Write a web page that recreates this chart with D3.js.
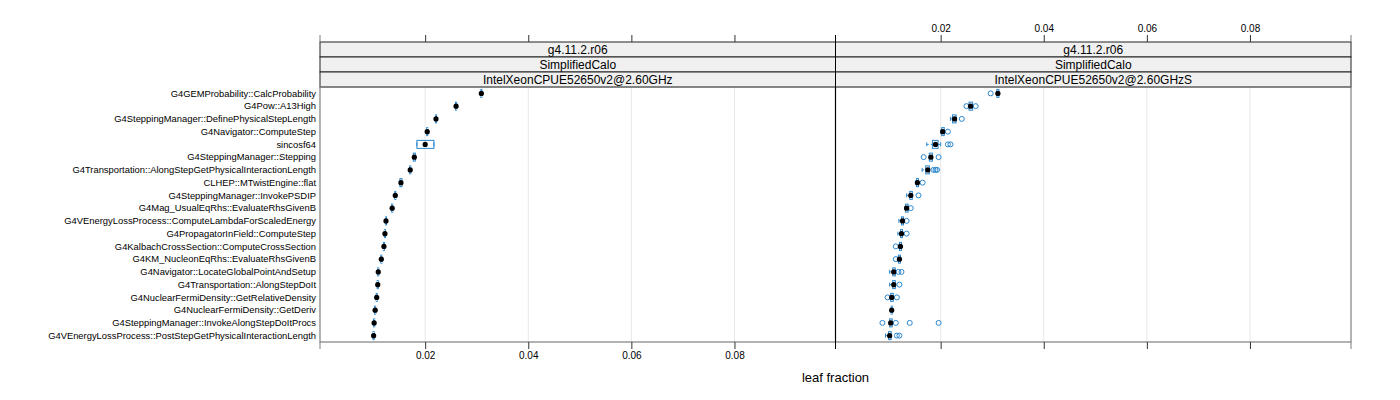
<!DOCTYPE html>
<html>
<head>
<meta charset="utf-8">
<script src="https://cdn.jsdelivr.net/npm/d3@7"></script>
<style>
  html, body { margin: 0; padding: 0; background: #fff; }
  svg { display: block; font-family: "Liberation Sans", Arial, sans-serif; }
</style>
</head>
<body>
<svg id="chart" width="1400" height="400"></svg>
<script>
const categories = [
  "G4GEMProbability::CalcProbability",
  "G4Pow::A13High",
  "G4SteppingManager::DefinePhysicalStepLength",
  "G4Navigator::ComputeStep",
  "sincosf64",
  "G4SteppingManager::Stepping",
  "G4Transportation::AlongStepGetPhysicalInteractionLength",
  "CLHEP::MTwistEngine::flat",
  "G4SteppingManager::InvokePSDIP",
  "G4Mag_UsualEqRhs::EvaluateRhsGivenB",
  "G4VEnergyLossProcess::ComputeLambdaForScaledEnergy",
  "G4PropagatorInField::ComputeStep",
  "G4KalbachCrossSection::ComputeCrossSection",
  "G4KM_NucleonEqRhs::EvaluateRhsGivenB",
  "G4Navigator::LocateGlobalPointAndSetup",
  "G4Transportation::AlongStepDoIt",
  "G4NuclearFermiDensity::GetRelativeDensity",
  "G4NuclearFermiDensity::GetDeriv",
  "G4SteppingManager::InvokeAlongStepDoItProcs",
  "G4VEnergyLossProcess::PostStepGetPhysicalInteractionLength"
];

const stripLevels = ["g4.11.2.r06", "SimplifiedCalo"];
const panelNames = ["IntelXeonCPUE52650v2@2.60GHz", "IntelXeonCPUE52650v2@2.60GHzS"];
const tickValues = [0.02, 0.04, 0.06, 0.08];
const tickLabels = ["0.02", "0.04", "0.06", "0.08"];
const xLabel = "leaf fraction";

// Left panel
const leftMedian = [0.0309,0.0260,0.0221,0.0204,0.0200,0.0179,0.0171,0.0153,0.0142,0.0136,0.0124,0.0122,0.0120,0.0115,0.0109,0.0108,0.0106,0.0103,0.0101,0.0100];
const leftQ1     = [0.0308,0.0259,0.0220,0.0203,0.0184,0.0177,0.0170,0.0151,0.0141,0.0135,0.0123,0.0121,0.0119,0.0114,0.0108,0.0107,0.0105,0.0102,0.0100,0.0099];
const leftQ3     = [0.0310,0.0261,0.0222,0.0205,0.0217,0.0181,0.0172,0.0155,0.0143,0.0137,0.0125,0.0123,0.0121,0.0116,0.0110,0.0109,0.0107,0.0104,0.0102,0.0101];
const leftLo     = [0.0308,0.0259,0.0220,0.0203,0.0184,0.0177,0.0170,0.0151,0.0141,0.0135,0.0123,0.0121,0.0119,0.0114,0.0108,0.0107,0.0105,0.0102,0.0100,0.0099];
const leftHi     = [0.0310,0.0261,0.0222,0.0205,0.0217,0.0181,0.0172,0.0155,0.0143,0.0137,0.0125,0.0123,0.0121,0.0116,0.0110,0.0109,0.0107,0.0104,0.0102,0.0101];
const leftOut    = [[],[],[],[],[],[],[],[],[],[],[],[],[],[],[],[],[],[],[],[]];

// Right panel
const rightMedian = [0.0311,0.0258,0.0227,0.0204,0.0190,0.0181,0.0175,0.0155,0.0142,0.0134,0.0126,0.0124,0.0122,0.0120,0.0109,0.0109,0.0105,0.0105,0.0103,0.0101];
const rightQ1     = [0.0309,0.0255,0.0223,0.0202,0.0184,0.0178,0.0171,0.0153,0.0140,0.0132,0.0124,0.0122,0.0120,0.0118,0.0107,0.0107,0.0103,0.0104,0.0101,0.0099];
const rightQ3     = [0.0313,0.0262,0.0230,0.0207,0.0195,0.0184,0.0178,0.0157,0.0145,0.0137,0.0128,0.0126,0.0124,0.0122,0.0112,0.0112,0.0108,0.0106,0.0106,0.0104];
const rightLo     = [0.0309,0.0255,0.0219,0.0200,0.0173,0.0178,0.0164,0.0151,0.0134,0.0130,0.0119,0.0117,0.0120,0.0118,0.0101,0.0101,0.0103,0.0104,0.0101,0.0093];
const rightHi     = [0.0313,0.0262,0.0230,0.0207,0.0200,0.0184,0.0178,0.0157,0.0145,0.0137,0.0128,0.0126,0.0124,0.0122,0.0112,0.0112,0.0108,0.0106,0.0106,0.0104];
const rightOut    = [[0.0297],[0.0250,0.0268],[0.0241],[0.0214],[0.0214,0.0219],[0.0167,0.0196],[0.0186,0.0190,0.0193],[0.0165],[0.0157],[0.0142],[0.0134],[0.0134],[0.0113],[0.0113],[0.0118,0.0124],[0.0120],[0.0097,0.0115],[],[0.0087,0.0113,0.0140,0.0196],[0.0115,0.0120]];

const panels = [
  {name: panelNames[0], med: leftMedian, q1: leftQ1, q3: leftQ3, lo: leftLo, hi: leftHi, out: leftOut},
  {name: panelNames[1], med: rightMedian, q1: rightQ1, q3: rightQ3, lo: rightLo, hi: rightHi, out: rightOut}
];

const svg = d3.select("#chart");
const blue = "#2a88d0";
const frameCol = "#7f7f7f";

const panelLeft = 320, panelW = 515.5;
const stripTop = 42, stripH = 15;
const panelTop = stripTop + stripH * 3, panelBottom = 342;
const domain = [-0.0004, 0.0996];

const y = d3.scalePoint().domain(categories).range([panelTop, panelBottom]).padding(0.5);
const boxH = 8;

// y labels
svg.append("g").selectAll("text").data(categories).join("text")
  .attr("x", 316).attr("y", d => y(d)).attr("dy", "0.35em")
  .attr("text-anchor", "end").attr("font-size", 9.4).attr("fill", "#000")
  .text(d => d);

panels.forEach((p, pi) => {
  const x0 = panelLeft + pi * panelW;
  const x = d3.scaleLinear().domain(domain).range([x0, x0 + panelW]);
  const g = svg.append("g");

  // grid
  g.selectAll("line.grid").data(tickValues).join("line")
    .attr("x1", d => x(d)).attr("x2", d => x(d))
    .attr("y1", panelTop).attr("y2", panelBottom)
    .attr("stroke", "#e8e8e8").attr("stroke-width", 1);

  // strips
  const levels = [stripLevels[0], stripLevels[1], p.name];
  levels.forEach((lab, li) => {
    const sy = stripTop + li * stripH;
    g.append("rect").attr("x", x0).attr("y", sy).attr("width", panelW).attr("height", stripH)
      .attr("fill", "#f0f0f0").attr("stroke", "#222").attr("stroke-width", 1);
    g.append("text").attr("x", x0 + panelW / 2).attr("y", sy + stripH / 2).attr("dy", "0.36em")
      .attr("text-anchor", "middle").attr("font-size", 12)
      .attr("fill", "#000").text(lab);
  });

  // boxes
  categories.forEach((c, i) => {
    const cy = y(c);
    [[p.lo[i], p.q1[i]], [p.q3[i], p.hi[i]]].forEach(([a, b]) => {
      if (Math.abs(x(b) - x(a)) > 0.5) {
        g.append("line").attr("x1", x(a)).attr("x2", x(b)).attr("y1", cy).attr("y2", cy)
          .attr("stroke", blue).attr("stroke-width", 1).attr("stroke-dasharray", "2,2");
      }
    });
    [p.lo[i], p.hi[i]].forEach(v => {
      g.append("line").attr("x1", x(v)).attr("x2", x(v)).attr("y1", cy - boxH / 4).attr("y2", cy + boxH / 4)
        .attr("stroke", blue).attr("stroke-width", 1);
    });
    g.append("rect").attr("x", x(p.q1[i])).attr("y", cy - boxH / 2)
      .attr("width", Math.max(1, x(p.q3[i]) - x(p.q1[i]))).attr("height", boxH)
      .attr("fill", "none").attr("stroke", blue).attr("stroke-width", 1);
    p.out[i].forEach(v => {
      g.append("circle").attr("cx", x(v)).attr("cy", cy).attr("r", 2.5)
        .attr("fill", "none").attr("stroke", blue).attr("stroke-width", 1);
    });
    g.append("circle").attr("cx", x(p.med[i])).attr("cy", cy).attr("r", 2.6).attr("fill", "#000");
  });

  // frame
  g.append("rect").attr("x", x0).attr("y", panelTop).attr("width", panelW).attr("height", panelBottom - panelTop)
    .attr("fill", "none").attr("stroke", frameCol).attr("stroke-width", 1.2);

  const top = d3.axisTop(x).tickValues(tickValues).tickSize(7).tickFormat((d, k) => pi === 1 ? tickLabels[k] : "");
  const bot = d3.axisBottom(x).tickValues(tickValues).tickSize(7).tickFormat((d, k) => pi === 0 ? tickLabels[k] : "");
  const ta = g.append("g").attr("transform", `translate(0,${stripTop})`).call(top);
  const ba = g.append("g").attr("transform", `translate(0,${panelBottom})`).call(bot);
  [ta, ba].forEach(a => {
    a.select(".domain").remove();
    a.selectAll(".tick line").attr("stroke", "#333");
    a.selectAll(".tick text").attr("font-size", 10).attr("font-family", "Liberation Sans, Arial, sans-serif").attr("fill", "#000");
  });
  [x0, x0 + panelW].forEach(ex => {
    g.append("line").attr("x1", ex).attr("x2", ex).attr("y1", stripTop - 7).attr("y2", stripTop).attr("stroke", frameCol);
    g.append("line").attr("x1", ex).attr("x2", ex).attr("y1", panelBottom).attr("y2", panelBottom + 7).attr("stroke", frameCol);
  });
});

svg.append("line").attr("x1", panelLeft + panelW).attr("x2", panelLeft + panelW)
  .attr("y1", stripTop - 7).attr("y2", panelBottom + 7).attr("stroke", "#000").attr("stroke-width", 1);

svg.append("text").attr("x", panelLeft + panelW).attr("y", 382).attr("text-anchor", "middle")
  .attr("font-size", 13).attr("fill", "#000").text(xLabel);
</script>
</body>
</html>
